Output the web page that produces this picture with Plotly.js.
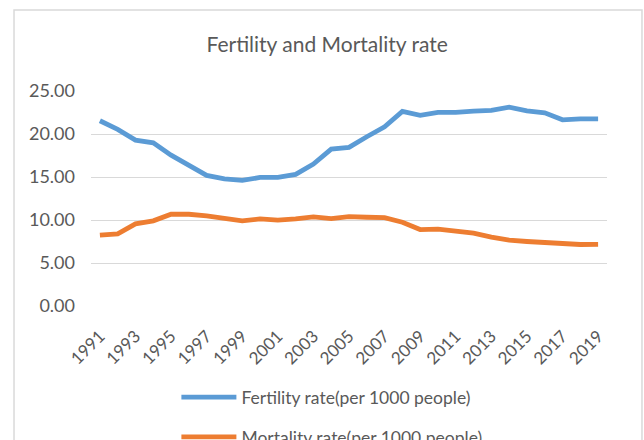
<!DOCTYPE html>
<html>
<head>
<meta charset="utf-8">
<script src="https://cdn.plot.ly/plotly-3.0.1.min.js"></script>
<style>html,body{margin:0;padding:0;background:#fff;}#chart{width:644px;height:440px;}</style>
</head>
<body>
<div id="chart"></div>
<script>
const years = [1991,1992,1993,1994,1995,1996,1997,1998,1999,2000,2001,2002,2003,2004,2005,2006,2007,2008,2009,2010,2011,2012,2013,2014,2015,2016,2017,2018,2019];
const fertility = [21.54,20.53,19.29,18.98,17.54,16.30,15.18,14.79,14.60,14.95,14.95,15.30,16.50,18.24,18.44,19.68,20.84,22.63,22.16,22.51,22.51,22.66,22.74,23.13,22.70,22.47,21.65,21.77,21.77];
const mortality = [8.23,8.38,9.55,9.90,10.67,10.67,10.48,10.24,9.90,10.13,9.98,10.13,10.36,10.17,10.40,10.32,10.28,9.74,8.89,8.93,8.70,8.46,8.00,7.65,7.50,7.38,7.15,7.15,7.17];
const tickYears = ['1991','1993','1995','1997','1999','2001','2003','2005','2007','2009','2011','2013','2015','2017','2019'];
const seriesNames = ['Fertility rate(per 1000 people)','Mortality rate(per 1000 people)'];

const font = 'Lato, "Open Sans", sans-serif';
const traces = [
  {x: years, y: fertility, name: seriesNames[0], type: 'scatter', mode: 'lines',
   line: {color: '#5B9BD5', width: 4.8}, legendgroup: 'a'},
  {x: years, y: mortality, name: seriesNames[1], type: 'scatter', mode: 'lines',
   line: {color: '#ED7D31', width: 4.8}, legendgroup: 'b'}
];
const layout = {
  width: 644, height: 440,
  margin: {l: 91, r: 37, t: 91, b: 134.3, autoexpand: false},
  paper_bgcolor: '#ffffff', plot_bgcolor: '#ffffff',
  title: {text: 'Fertility and Mortality rate', font: {family: font, size: 21, color: '#595959'},
          x: 0.508, xanchor: 'center', y: 0.898, yanchor: 'middle'},
  xaxis: {range: [1990.5, 2019.5], tickmode: 'array', tickvals: tickYears.map(Number), ticktext: tickYears,
          tickangle: -45, showgrid: false, zeroline: false, showline: false, ticks: '', automargin: false,
          ticklabelstandoff: 16, tickfont: {family: font, size: 17, color: '#595959'}},
  yaxis: {range: [0, 25], dtick: 5, tickformat: '.2f', gridcolor: '#D9D9D9', gridwidth: 1,
          zeroline: false, showline: false, ticks: '', ticklabelstandoff: 15, automargin: false,
          tickfont: {family: font, size: 18, color: '#595959'}},
  showlegend: true,
  legend: {orientation: 'v', x: 0.1655, xanchor: 'left', y: -0.341, yanchor: 'top',
           font: {family: font, size: 17.5, color: '#595959'}, tracegroupgap: 14, itemwidth: 55},
  shapes: [{type: 'rect', xref: 'paper', yref: 'paper', x0: -0.1492, x1: 1.0678, y0: -0.8, y1: 1.377,
            line: {color: '#D9D9D9', width: 1.5}, fillcolor: 'rgba(0,0,0,0)', layer: 'below'}]
};
Plotly.newPlot('chart', traces, layout, {displayModeBar: false, staticPlot: true});
</script>
</body>
</html>
